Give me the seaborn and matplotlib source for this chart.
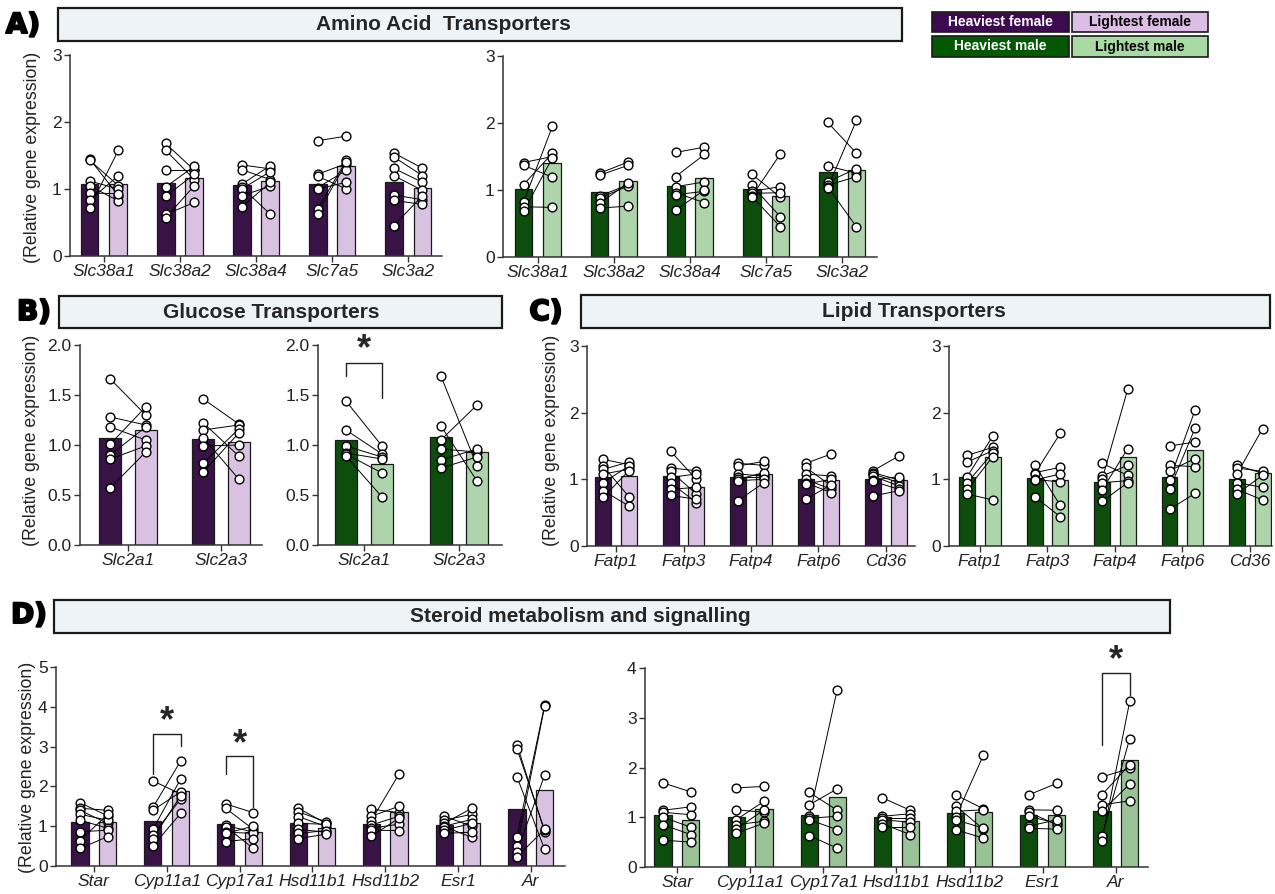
import pandas as pd
import seaborn as sns
import matplotlib.pyplot as plt
from matplotlib.patches import Rectangle
import matplotlib.patheffects as pe

# ---- data (paired values: heaviest[i][k] is linked to lightest[i][k]) ----
aa_genes = ['Slc38a1', 'Slc38a2', 'Slc38a4', 'Slc7a5', 'Slc3a2']
aa_f_heavy = [[1.45, 1.43, 1.12, 1.05, 0.94, 0.83, 0.72],
              [1.68, 1.58, 1.28, 1.03, 0.89, 0.62, 0.57],
              [1.36, 1.29, 1.07, 1.03, 1.00, 0.90, 0.73],
              [1.72, 1.22, 1.19, 1.02, 1.00, 0.70, 0.63],
              [1.54, 1.48, 1.31, 1.20, 0.91, 0.83, 0.45]]
aa_f_light = [[0.90, 1.05, 1.00, 0.82, 0.93, 1.20, 1.58],
              [1.28, 1.14, 1.28, 1.34, 1.22, 0.80, 1.05],
              [1.30, 1.14, 1.35, 0.62, 1.26, 1.04, 1.10],
              [1.79, 1.38, 1.00, 1.28, 1.10, 1.43, 1.40],
              [1.31, 1.20, 1.10, 0.98, 0.84, 0.77, 0.90]]
aa_m_heavy = [[1.41, 1.37, 1.08, 0.82, 0.75, 0.68],
              [1.25, 1.22, 0.91, 0.88, 0.80, 0.73],
              [1.56, 1.20, 1.05, 0.96, 0.93, 0.70],
              [1.24, 1.07, 0.98, 0.95, 0.91, 0.90],
              [2.01, 1.36, 1.12, 1.07, 1.05, 1.03]]
aa_m_light = [[1.50, 1.19, 1.55, 1.95, 0.74, 1.48],
              [1.42, 1.37, 1.08, 1.06, 1.11, 0.76],
              [1.64, 1.53, 1.12, 0.81, 0.98, 1.00],
              [0.89, 0.60, 1.05, 0.96, 0.45, 1.54],
              [1.55, 1.25, 1.32, 1.20, 0.45, 2.04]]

glu_genes = ['Slc2a1', 'Slc2a3']
glu_f_heavy = [[1.66, 1.28, 1.18, 1.01, 0.90, 0.86, 0.57],
               [1.46, 1.22, 1.15, 1.07, 0.99, 0.82, 0.73]]
glu_f_light = [[1.30, 1.20, 1.05, 1.38, 1.18, 0.99, 0.93],
               [1.21, 0.89, 1.20, 0.66, 1.00, 1.16, 1.12]]
glu_m_heavy = [[1.44, 1.15, 0.99, 0.92, 0.91, 0.89],
               [1.69, 1.19, 1.05, 0.96, 0.85, 0.77]]
glu_m_light = [[0.99, 0.91, 0.88, 0.86, 0.72, 0.48],
               [0.79, 0.64, 1.40, 0.93, 0.96, 0.88]]

lip_genes = ['Fatp1', 'Fatp3', 'Fatp4', 'Fatp6', 'Cd36']
lip_f_heavy = [[1.30, 1.20, 1.15, 1.08, 0.95, 0.83, 0.73],
               [1.42, 1.17, 1.12, 1.03, 0.95, 0.85, 0.76],
               [1.24, 1.20, 1.08, 1.03, 1.00, 0.98, 0.68],
               [1.24, 1.18, 1.08, 1.00, 0.95, 0.93, 0.70],
               [1.13, 1.10, 1.08, 1.05, 0.99, 0.97, 0.75]]
lip_f_light = [[1.22, 0.74, 1.26, 1.15, 1.20, 0.60, 1.13],
               [1.00, 1.13, 0.78, 1.08, 0.65, 0.88, 0.70],
               [1.21, 1.27, 1.05, 1.03, 1.10, 1.00, 0.95],
               [1.38, 0.90, 1.05, 0.85, 0.80, 1.00, 0.92],
               [1.35, 0.99, 0.95, 0.90, 1.04, 0.85, 0.83]]
lip_m_heavy = [[1.36, 1.26, 1.04, 0.95, 0.85, 0.78],
               [1.22, 1.10, 1.08, 1.00, 0.99, 0.74],
               [1.24, 1.05, 1.00, 0.95, 0.84, 0.67],
               [1.50, 1.21, 1.13, 0.99, 0.85, 0.55],
               [1.21, 1.17, 1.08, 0.95, 0.85, 0.78]]
lip_m_light = [[1.48, 1.43, 1.65, 1.40, 1.34, 0.69],
               [0.61, 1.18, 1.69, 0.96, 1.08, 0.44],
               [1.06, 1.21, 2.35, 0.98, 1.46, 0.95],
               [1.56, 1.19, 1.31, 2.04, 1.77, 0.79],
               [1.09, 1.12, 1.76, 0.88, 0.69, 1.06]]

ster_genes = ['Star', 'Cyp11a1', 'Cyp17a1', 'Hsd11b1', 'Hsd11b2', 'Esr1', 'Ar']
ster_f_heavy = [[1.59, 1.45, 1.40, 1.30, 1.15, 0.86, 0.64, 0.44],
                [2.14, 1.47, 1.40, 0.92, 0.78, 0.69, 0.50],
                [1.56, 1.45, 1.02, 0.99, 0.85, 0.82, 0.61],
                [1.45, 1.36, 1.24, 1.07, 0.92, 0.82, 0.69],
                [1.43, 1.25, 1.14, 1.03, 0.95, 0.90, 0.75],
                [1.25, 1.15, 1.07, 1.00, 0.99, 0.90, 0.82],
                [3.05, 2.95, 2.24, 0.74, 0.50, 0.36, 0.23]]
ster_f_light = [[1.26, 1.40, 1.07, 1.15, 0.95, 0.90, 1.30, 0.74],
                [1.81, 2.63, 1.86, 2.18, 1.68, 1.76, 1.32],
                [1.34, 0.92, 0.85, 0.44, 0.82, 1.00, 0.69],
                [1.07, 1.11, 0.99, 1.05, 0.85, 0.89, 0.80],
                [1.34, 1.50, 2.31, 1.25, 1.05, 0.89, 1.20],
                [1.00, 1.30, 1.45, 1.17, 0.72, 1.07, 0.85],
                [0.86, 0.90, 0.42, 4.04, 4.01, 2.28, 0.92]]
ster_m_heavy = [[1.69, 1.14, 1.10, 1.00, 0.85, 0.54],
                [1.59, 1.15, 0.95, 0.85, 0.76, 0.68],
                [1.50, 1.25, 1.02, 0.98, 0.95, 0.63],
                [1.39, 1.02, 0.98, 0.95, 0.87, 0.80],
                [1.45, 1.23, 1.12, 1.00, 0.95, 0.75],
                [1.45, 1.15, 1.10, 1.02, 0.82, 0.78],
                [1.81, 1.45, 1.25, 1.12, 0.62, 0.52]]
ster_m_light = [[1.51, 1.21, 1.05, 0.80, 0.65, 0.50],
                [1.62, 1.10, 1.32, 0.92, 1.15, 0.88],
                [1.14, 1.57, 3.56, 1.02, 0.75, 0.38],
                [1.14, 1.07, 0.98, 0.90, 0.65, 0.80],
                [1.17, 0.76, 1.15, 2.25, 0.78, 0.58],
                [1.68, 1.14, 0.85, 0.88, 0.95, 0.76],
                [1.98, 2.06, 1.33, 1.67, 2.58, 3.33]]

female_pal = ['#3d0a4f', '#dcbde6']
male_pal = ['#025902', '#a8dba4']
male_pal_d = ['#025902', '#93ca8f']

sns.set_style('ticks')
plt.rcParams['font.family'] = ['Liberation Sans', 'DejaVu Sans']

W, H = 1275, 894
fig = plt.figure(figsize=(W / 100, H / 100), dpi=100)


def px_axes(x0, y0, x1, y1):
    return fig.add_axes([x0 / W, 1 - y1 / H, (x1 - x0) / W, (y1 - y0) / H])


def long_df(genes, heavy, light):
    rows = []
    for g, hv, lv in zip(genes, heavy, light):
        for k, (a, b) in enumerate(zip(hv, lv)):
            rows.append((g, 'Heaviest', k, a))
            rows.append((g, 'Lightest', k, b))
    return pd.DataFrame(rows, columns=['gene', 'group', 'pair', 'value'])


def panel(ax, genes, heavy, light, pal, ymax, yticks, fmt, xlim):
    df = long_df(genes, heavy, light)
    sns.barplot(data=df, x='gene', y='value', hue='group', order=genes,
                hue_order=['Heaviest', 'Lightest'], palette=pal, errorbar=None,
                width=0.76, gap=0.38, edgecolor='#1a1a1a', linewidth=0.9,
                legend=False, ax=ax, zorder=2)
    off = 0.19
    for i, (hv, lv) in enumerate(zip(heavy, light)):
        for a, b in zip(hv, lv):
            ax.plot([i - off, i + off], [a, b], color='black', lw=0.7,
                    zorder=3, clip_on=False)
        ax.scatter([i - off] * len(hv), hv, s=40, facecolor='white',
                   edgecolor='black', lw=1.0, zorder=4, clip_on=False)
        ax.scatter([i + off] * len(lv), lv, s=40, facecolor='white',
                   edgecolor='black', lw=1.0, zorder=4, clip_on=False)
    ax.set_xlim(*xlim)
    ax.set_ylim(0, ymax)
    ax.set_yticks(yticks)
    ax.set_yticklabels([fmt.format(t) for t in yticks])
    ax.set_xlabel('')
    ax.set_ylabel('')
    sns.despine(ax=ax)
    for s in ['left', 'bottom']:
        ax.spines[s].set_color('#333333')
        ax.spines[s].set_linewidth(1.1)
    ax.tick_params(axis='both', labelsize=12.5, length=4.5, width=1.0,
                   color='#333333', labelcolor='#222222', pad=1.5)
    for lab in ax.get_xticklabels():
        lab.set_style('italic')
    ax.patch.set_alpha(0)


def bracket(ax, x0, x1, yl, ytop, yr, ystar):
    ax.plot([x0, x0, x1, x1], [yl, ytop, ytop, yr], color='#222222',
            lw=1.0, zorder=5, clip_on=False)
    ax.text((x0 + x1) / 2, ystar, '*', ha='center', va='center',
            fontsize=26, fontweight='bold', clip_on=False)


def title_box(x0, y0, x1, y1, text, tx):
    fig.patches.append(Rectangle((x0 / W, 1 - y1 / H), (x1 - x0) / W, (y1 - y0) / H,
                                 transform=fig.transFigure, facecolor='#eef3f7',
                                 edgecolor='#1a1a1a', lw=1.6))
    fig.text(tx / W, 1 - (y0 + y1) / 2 / H, text, ha='center', va='center',
             fontsize=15, fontweight='bold')


def letter(x, y, text):
    fig.text(x / W, 1 - y / H, text, ha='center', va='center', fontsize=20,
             fontweight='bold', family='DejaVu Sans', color='black',
             path_effects=[pe.Stroke(linewidth=1.5, foreground='black'), pe.Normal()])


def ylab(x, y):
    fig.text(x / W, 1 - y / H, '(Relative gene expression)', rotation=90,
             ha='center', va='center', fontsize=12.8, color='#222222')


# ---- panel A ----
ax = px_axes(70, 55, 442, 256)
panel(ax, aa_genes, aa_f_heavy, aa_f_light, female_pal, 3, [0, 1, 2, 3], '{:g}', (-0.447, 4.447))
ax = px_axes(503, 56, 877, 257)
panel(ax, aa_genes, aa_m_heavy, aa_m_light, male_pal, 3, [0, 1, 2, 3], '{:g}', (-0.46, 4.46))

# ---- panel B ----
ax = px_axes(80, 345, 262, 545)
panel(ax, glu_genes, glu_f_heavy, glu_f_light, female_pal, 2, [0, 0.5, 1, 1.5, 2], '{:.1f}', (-0.516, 1.44))
ax = px_axes(318, 345, 502, 545)
panel(ax, glu_genes, glu_m_heavy, glu_m_light, male_pal, 2, [0, 0.5, 1, 1.5, 2], '{:.1f}', (-0.484, 1.453))
bracket(ax, -0.19, 0.19, 1.69, 1.82, 1.47, 1.95)

# ---- panel C ----
ax = px_axes(587, 346, 915, 546)
panel(ax, lip_genes, lip_f_heavy, lip_f_light, female_pal, 3, [0, 1, 2, 3], '{:g}', (-0.43, 4.43))
ax = px_axes(949, 346, 1272, 546)
panel(ax, lip_genes, lip_m_heavy, lip_m_light, male_pal, 3, [0, 1, 2, 3], '{:g}', (-0.46, 4.33))

# ---- panel D ----
ax = px_axes(56, 667, 565, 866)
panel(ax, ster_genes, ster_f_heavy, ster_f_light, female_pal, 5, [0, 1, 2, 3, 4, 5], '{:g}', (-0.52, 6.47))
bracket(ax, 1 - 0.19, 1 + 0.19, 2.31, 3.31, 3.01, 3.62)
bracket(ax, 2 - 0.19, 2 + 0.19, 2.30, 2.76, 1.47, 3.06)
ax = px_axes(645, 668, 1148, 867)
panel(ax, ster_genes, ster_m_heavy, ster_m_light, male_pal_d, 4, [0, 1, 2, 3, 4], '{:g}', (-0.437, 6.44))
bracket(ax, 6 - 0.19, 6 + 0.19, 2.45, 3.89, 3.46, 4.15)

# ---- titles, letters, y labels ----
title_box(58, 8, 902, 41, 'Amino Acid  Transporters', 443)
title_box(59, 296, 502, 328, 'Glucose Transporters', 271)
title_box(581, 295, 1270, 328, 'Lipid Transporters', 914)
title_box(54, 600, 1170, 633, 'Steroid metabolism and signalling', 580)

letter(23, 25, 'A)')
letter(34, 312, 'B)')
letter(546, 312, 'C)')
letter(29, 615, 'D)')

ylab(33, 157)
ylab(32, 440)
ylab(551, 440)
ylab(28, 767)

# ---- legend boxes ----
legend_items = [((932, 12, 1069, 32), female_pal[0], 'Heaviest female', 'white'),
                ((1072, 12, 1208, 32), female_pal[1], 'Lightest female', 'black'),
                ((932, 36, 1069, 57), male_pal[0], 'Heaviest male', 'white'),
                ((1072, 36, 1208, 57), male_pal[1], 'Lightest male', 'black')]
for (x0, y0, x1, y1), col, txt, tcol in legend_items:
    fig.patches.append(Rectangle((x0 / W, 1 - y1 / H), (x1 - x0) / W, (y1 - y0) / H,
                                 transform=fig.transFigure, facecolor=col,
                                 edgecolor='#1a1a1a', lw=1.2))
    fig.text((x0 + x1) / 2 / W, 1 - (y0 + y1) / 2 / H, txt, ha='center',
             va='center', fontsize=10, fontweight='bold', color=tcol)

fig.savefig('out.png', dpi=100)
